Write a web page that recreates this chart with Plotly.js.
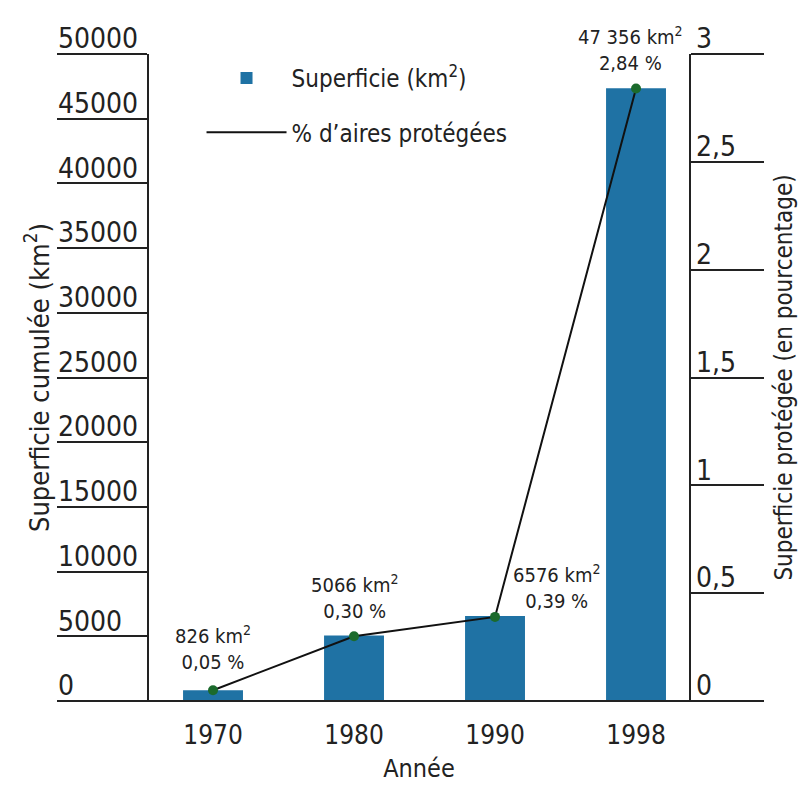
<!DOCTYPE html>
<html>
<head>
<meta charset="utf-8">
<script src="https://cdn.plot.ly/plotly-3.0.1.min.js"></script>
<style>html,body{margin:0;padding:0;background:#fff;}#chart{width:804px;height:787px;}</style>
</head>
<body>
<div id="chart"></div>
<script>
// ---- data ----
var years = ['1970', '1980', '1990', '1998'];
var superficie = [826, 5066, 6576, 47356];          // km²
var pourcentage = [0.05, 0.30, 0.39, 2.84];          // %
var kmLabels = ['826', '5066', '6576', '47 356'];
var pctLabels = ['0,05', '0,30', '0,39', '2,84'];
var leftTickVals = [0, 5000, 10000, 15000, 20000, 25000, 30000, 35000, 40000, 45000, 50000];
var leftTickText = ['0', '5000', '10000', '15000', '20000', '25000', '30000', '35000', '40000', '45000', '50000'];
var rightTickVals = [0, 0.5, 1, 1.5, 2, 2.5, 3];
var rightTickText = ['0', '0,5', '1', '1,5', '2', '2,5', '3'];

var FONT = '"Liberation Sans Narrow", "Noto Sans Condensed", "DejaVu Sans Condensed", "Arial Narrow", sans-serif';
var TXT = '#222';

var traces = [
  {
    type: 'bar', x: years, y: superficie, name: 'Superficie (km<sup>2</sup>)',
    width: 0.425, marker: {color: '#1f72a4'}, legendgroup: 'a', hoverinfo: 'x+y'
  },
  {
    type: 'scatter', mode: 'lines', x: years, y: pourcentage, yaxis: 'y2',
    name: '% d\u2019aires protégées', line: {color: '#111', width: 2}, legendgroup: 'b'
  },
  {
    type: 'scatter', mode: 'markers', x: years, y: pourcentage, yaxis: 'y2',
    showlegend: false, marker: {color: '#1b6a2c', size: 10}
  },
  // invisible helpers so the label-only axes are drawn
  {type: 'scatter', mode: 'markers', x: years, y: superficie, yaxis: 'y3', showlegend: false, hoverinfo: 'skip', marker: {opacity: 0}},
  {type: 'scatter', mode: 'markers', x: years, y: pourcentage, yaxis: 'y4', showlegend: false, hoverinfo: 'skip', marker: {opacity: 0}}
];

// annotation placement (layout, not data)
var annPlace = [
  {xanchor: 'center', xshift: 0, yshift: 14},
  {xanchor: 'center', xshift: 0, yshift: 11},
  {xanchor: 'left', xshift: 16, yshift: 2},
  {xanchor: 'center', xshift: -6, yshift: 12}
];
var annotations = years.map(function (yr, i) {
  return {
    x: i, y: pourcentage[i], xref: 'x', yref: 'y2',
    text: kmLabels[i] + ' km<sup>2</sup><br>' + pctLabels[i] + ' %',
    showarrow: false, xanchor: annPlace[i].xanchor, yanchor: 'bottom',
    xshift: annPlace[i].xshift, yshift: annPlace[i].yshift,
    font: {family: FONT, size: 20, color: TXT}, align: 'center'
  };
});

var layout = {
  width: 804, height: 787,
  margin: {l: 57, r: 42, t: 54, b: 86},
  paper_bgcolor: '#fff', plot_bgcolor: '#fff',
  separators: ', ',
  font: {family: FONT, color: TXT},
  showlegend: true,
  legend: {
    x: 0.205, y: 0.997, xanchor: 'left', yanchor: 'top',
    font: {family: FONT, size: 24, color: TXT},
    itemwidth: 80, traceorder: 'grouped', tracegroupgap: 20,
    bgcolor: 'rgba(0,0,0,0)'
  },
  xaxis: {
    type: 'category', domain: [0.1305, 0.8965], range: [-0.454, 3.376],
    showline: false, showgrid: false, zeroline: false,
    ticks: '', ticklabelstandoff: 16,
    tickfont: {family: FONT, size: 26, color: TXT},
    title: {text: 'Année', font: {family: FONT, size: 25, color: TXT}, standoff: 10},
    fixedrange: true
  },
  yaxis: {
    range: [0, 50000], showline: true, linecolor: '#222', linewidth: 2,
    ticks: 'outside', ticklen: 90, tickwidth: 2, tickcolor: '#222',
    tickvals: leftTickVals, showticklabels: false,
    showgrid: false, zeroline: false,
    title: {text: 'Superficie cumulée (km<sup>2</sup>)', font: {family: FONT, size: 27, color: TXT}, standoff: 0}
  },
  yaxis2: {
    range: [0, 3], overlaying: 'y', side: 'right', anchor: 'x',
    showline: true, linecolor: '#222', linewidth: 2,
    ticks: 'outside', ticklen: 73, tickwidth: 2, tickcolor: '#222',
    tickvals: rightTickVals, showticklabels: false,
    showgrid: false, zeroline: false,
    title: {text: 'Superficie protégée (en pourcentage)', font: {family: FONT, size: 24, color: TXT}, standoff: 12}
  },
  yaxis3: {
    range: [0, 50000], overlaying: 'y', side: 'right', anchor: 'free', position: 0.0,
    showline: false, ticks: '', showgrid: false, zeroline: false,
    tickvals: leftTickVals, ticktext: leftTickText,
    ticklabelposition: 'outside top', ticklabelshift: 4,
    tickfont: {family: FONT, size: 28, color: TXT}
  },
  yaxis4: {
    range: [0, 3], overlaying: 'y', side: 'right', anchor: 'free', position: 0.905,
    showline: false, ticks: '', showgrid: false, zeroline: false,
    tickvals: rightTickVals, ticktext: rightTickText,
    ticklabelposition: 'outside top', ticklabelshift: 4,
    tickfont: {family: FONT, size: 28, color: TXT}
  },
  shapes: [
    {type: 'line', xref: 'paper', yref: 'paper', x0: 0, x1: 1, y0: 0, y1: 0, line: {color: '#222', width: 2}}
  ],
  annotations: annotations
};

Plotly.newPlot('chart', traces, layout, {displayModeBar: false, staticPlot: true});
</script>
</body>
</html>
